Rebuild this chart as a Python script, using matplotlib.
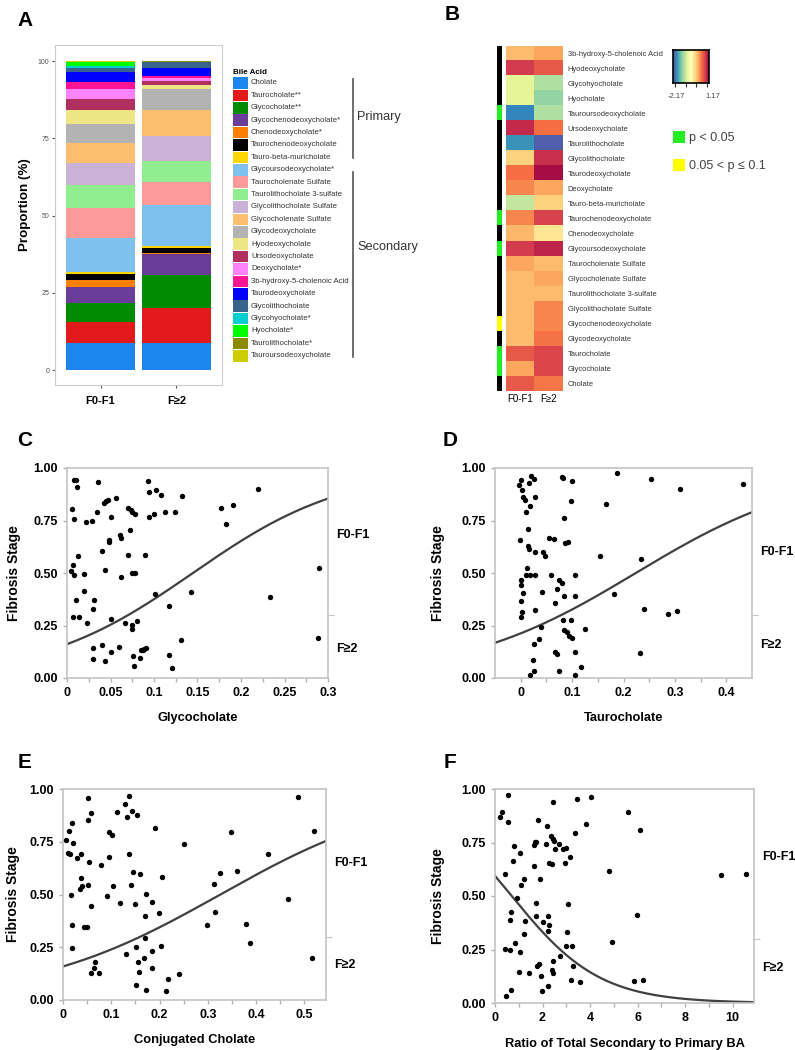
import numpy as np
import matplotlib.pyplot as plt
from matplotlib.patches import Rectangle
from matplotlib.colors import to_rgb

plt.rcParams['font.family'] = ['Liberation Sans', 'DejaVu Sans']

W, H = 795, 1050

# ---------------- Panel A: stacked proportions ----------------
acids = ['Cholate', 'Taurocholate', 'Glycocholate', 'Glycochenodeoxycholate',
         'Chenodeoxycholate', 'Taurochenodeoxycholate', 'Tauro-beta-muricholate',
         'Glycoursodeoxycholate', 'Taurocholenate Sulfate', 'Taurolithocholate 3-sulfate',
         'Glycolithocholate Sulfate', 'Glycocholenate Sulfate', 'Glycodeoxycholate',
         'Hyodeoxycholate', 'Ursodeoxycholate', 'Deoxycholate',
         '3b-hydroxy-5-cholenoic Acid', 'Taurodeoxycholate', 'Glycolithocholate',
         'Glycohyocholate', 'Hyocholate', 'Taurolithocholate', 'Tauroursodeoxycholate']
acid_marks = ['', '**', '**', '*', '*', '', '', '*', '', '', '', '', '', '', '', '*',
              '', '', '', '*', '*', '*', '']
acid_colors = ['#1C86EE', '#E31A1C', '#008B00', '#6A3D9A', '#FF7F00', '#000000',
               '#FFD700', '#7EC0EE', '#FB9A99', '#90EE90', '#CAB2D6', '#FDBF6F',
               '#B3B3B3', '#EEE685', '#B03060', '#FF83FA', '#FF1493', '#0000FF',
               '#36648B', '#00CED1', '#00FF00', '#8B8B00', '#CDCD00']
prop_f01 = [8.6, 6.8, 6.4, 5.2, 2.1, 2.0, 0.6, 10.9, 9.7, 7.5, 7.1, 6.7, 5.9,
            4.6, 3.6, 3.2, 2.4, 3.0, 1.5, 0.6, 1.2, 0.2, 0.2]
prop_f2 = [8.8, 11.4, 10.5, 6.8, 0.5, 1.6, 0.5, 13.2, 7.5, 6.7, 8.1, 8.5, 6.7,
           1.4, 1.3, 0.9, 0.8, 2.4, 2.0, 0.1, 0.1, 0.1, 0.1]
groups = ['F0-F1', 'F\u22652']

# ---------------- Panel B: heatmap ----------------
heat_rows = ['3b-hydroxy-5-cholenoic Acid', 'Hyodeoxycholate', 'Glycohyocholate',
             'Hyocholate', 'Tauroursodeoxycholate', 'Ursodeoxycholate',
             'Taurolithocholate', 'Glycolithocholate', 'Taurodeoxycholate',
             'Deoxycholate', 'Tauro-beta-muricholate', 'Taurochenodeoxycholate',
             'Chenodeoxycholate', 'Glycoursodeoxycholate', 'Taurocholenate Sulfate',
             'Glycocholenate Sulfate', 'Taurolithocholate 3-sulfate',
             'Glycolithocholate Sulfate', 'Glycochenodeoxycholate', 'Glycodeoxycholate',
             'Taurocholate', 'Glycocholate', 'Cholate']
z_f01 = [0.07, 0.84, -0.83, -0.83, -1.84, 0.94, -1.77, -0.07, 0.50, 0.37, -1.03,
         0.37, 0.10, 0.84, 0.20, 0.07, 0.07, 0.07, 0.07, 0.07, 0.64, 0.20, 0.64]
z_f2 = [0.20, 0.64, -1.13, -1.27, -1.13, 0.50, -2.07, 0.90, 1.10, 0.20, -0.07,
        0.80, -0.23, 0.97, 0.07, 0.20, 0.07, 0.37, 0.37, 0.47, 0.77, 0.77, 0.44]
heat_sig = ['ns', 'ns', 'ns', 'ns', 'p05', 'ns', 'ns', 'ns', 'ns', 'ns', 'ns', 'p05',
            'ns', 'p05', 'ns', 'ns', 'ns', 'ns', 'p10', 'ns', 'p05', 'p05', 'ns']
z_min, z_max = -2.17, 1.17

# ---------------- Panels C-F: logistic fits ----------------
gc_x = [0.008, 0.010, 0.012, 0.036, 0.006, 0.008, 0.022, 0.029, 0.035, 0.042, 0.045,
        0.047, 0.056, 0.050, 0.007, 0.005, 0.008, 0.013, 0.010, 0.007, 0.014, 0.019,
        0.020, 0.031, 0.030, 0.023, 0.040, 0.044, 0.048, 0.048, 0.061, 0.062, 0.062,
        0.051, 0.070, 0.073, 0.075, 0.078, 0.072, 0.070, 0.075, 0.078, 0.067, 0.075,
        0.075, 0.080, 0.093, 0.094, 0.102, 0.108, 0.094, 0.100, 0.113, 0.124, 0.132,
        0.090, 0.101, 0.117, 0.143, 0.177, 0.183, 0.191, 0.220, 0.233, 0.290, 0.288,
        0.131, 0.030, 0.040, 0.060, 0.030, 0.044, 0.051, 0.076, 0.077, 0.084, 0.085,
        0.087, 0.089, 0.091, 0.117, 0.121]
gc_y = [0.944, 0.941, 0.908, 0.933, 0.806, 0.759, 0.741, 0.749, 0.789, 0.833, 0.844,
        0.849, 0.857, 0.767, 0.537, 0.508, 0.492, 0.579, 0.373, 0.290, 0.289, 0.497,
        0.413, 0.370, 0.330, 0.262, 0.603, 0.516, 0.656, 0.646, 0.683, 0.667, 0.479,
        0.281, 0.810, 0.798, 0.789, 0.783, 0.706, 0.584, 0.500, 0.500, 0.262, 0.254,
        0.233, 0.273, 0.937, 0.886, 0.897, 0.871, 0.767, 0.783, 0.789, 0.789, 0.868,
        0.587, 0.400, 0.344, 0.408, 0.811, 0.733, 0.822, 0.900, 0.384, 0.524, 0.190,
        0.179, 0.143, 0.159, 0.146, 0.090, 0.079, 0.122, 0.103, 0.056, 0.095, 0.132,
        0.135, 0.138, 0.141, 0.108, 0.046]

tc_x = [-0.003, 0.001, 0.003, 0.005, 0.008, 0.010, 0.015, 0.018, 0.016, 0.021, 0.026,
        0.028, -0.001, 0.015, 0.017, 0.028, 0.043, 0.048, 0.056, 0.065, 0.000, 0.001,
        0.005, 0.001, 0.003, 0.000, 0.013, 0.010, 0.018, 0.028, 0.042, 0.028, 0.039,
        0.035, 0.026, 0.023, 0.018, 0.026, 0.058, 0.066, 0.070, 0.074, 0.081, 0.084,
        0.082, 0.084, 0.090, 0.094, 0.097, 0.100, 0.066, 0.071, 0.074, 0.081, 0.083,
        0.100, 0.097, 0.085, 0.087, 0.092, 0.105, 0.105, 0.106, 0.106, 0.118, 0.126,
        0.155, 0.166, 0.181, 0.187, 0.234, 0.239, 0.232, 0.253, 0.286, 0.305, 0.310,
        0.432]
tc_y = [0.921, 0.941, 0.897, 0.862, 0.849, 0.789, 0.710, 0.821, 0.929, 0.963, 0.948,
        0.862, 0.656, 0.627, 0.614, 0.598, 0.598, 0.583, 0.667, 0.662, 0.468, 0.444,
        0.405, 0.365, 0.313, 0.289, 0.524, 0.492, 0.492, 0.492, 0.408, 0.322, 0.241,
        0.186, 0.162, 0.084, 0.016, 0.035, 0.492, 0.357, 0.424, 0.465, 0.452, 0.392,
        0.278, 0.230, 0.217, 0.198, 0.278, 0.190, 0.122, 0.114, 0.035, 0.956, 0.952,
        0.940, 0.844, 0.762, 0.643, 0.648, 0.492, 0.392, 0.122, 0.016, 0.051, 0.233,
        0.579, 0.830, 0.400, 0.976, 0.567, 0.330, 0.119, 0.948, 0.305, 0.317, 0.902,
        0.925]

cc_x = [0.006, 0.012, 0.018, 0.010, 0.014, 0.021, 0.028, 0.038, 0.016, 0.037, 0.036,
        0.040, 0.051, 0.053, 0.051, 0.052, 0.059, 0.059, 0.019, 0.044, 0.049, 0.018,
        0.078, 0.095, 0.101, 0.095, 0.104, 0.092, 0.111, 0.118, 0.128, 0.133, 0.137,
        0.142, 0.154, 0.137, 0.146, 0.160, 0.141, 0.149, 0.172, 0.170, 0.184, 0.198,
        0.190, 0.206, 0.250, 0.170, 0.152, 0.130, 0.156, 0.158, 0.152, 0.168, 0.185,
        0.184, 0.173, 0.204, 0.218, 0.214, 0.241, 0.066, 0.064, 0.059, 0.075, 0.299,
        0.312, 0.315, 0.325, 0.348, 0.360, 0.379, 0.388, 0.424, 0.467, 0.486, 0.517,
        0.521]
cc_y = [0.757, 0.802, 0.838, 0.698, 0.690, 0.743, 0.675, 0.694, 0.500, 0.576, 0.527,
        0.540, 0.543, 0.656, 0.852, 0.957, 0.886, 0.444, 0.357, 0.344, 0.346, 0.246,
        0.640, 0.794, 0.783, 0.678, 0.540, 0.492, 0.889, 0.460, 0.929, 0.865, 0.965,
        0.897, 0.878, 0.694, 0.606, 0.598, 0.544, 0.457, 0.503, 0.397, 0.465, 0.413,
        0.813, 0.583, 0.741, 0.294, 0.249, 0.219, 0.178, 0.132, 0.071, 0.198, 0.233,
        0.154, 0.048, 0.254, 0.100, 0.043, 0.125, 0.178, 0.151, 0.130, 0.127, 0.357,
        0.552, 0.416, 0.600, 0.798, 0.611, 0.362, 0.270, 0.690, 0.479, 0.963, 0.198,
        0.802]

ratio_x = [0.21, 0.31, 0.55, 0.55, 0.42, 0.80, 0.77, 1.04, 1.08, 1.22, 0.94, 0.69,
           0.62, 0.84, 0.42, 0.62, 1.05, 1.26, 1.22, 1.01, 1.43, 0.48, 0.69, 1.64,
           1.64, 1.69, 1.74, 1.81, 1.88, 1.74, 1.71, 1.78, 1.85, 1.92, 1.97, 2.02,
           2.13, 2.18, 2.25, 2.28, 2.23, 2.25, 2.28, 2.39, 2.34, 2.42, 2.49, 2.42,
           2.53, 2.70, 2.88, 2.98, 2.94, 3.16, 3.02, 3.08, 2.98, 2.74, 2.44, 2.39,
           2.42, 3.26, 3.29, 3.19, 3.58, 3.36, 3.44, 3.85, 4.06, 4.78, 4.94, 5.58,
           5.83, 5.97, 6.11, 6.21, 9.51, 10.56]
ratio_y = [0.869, 0.893, 0.972, 0.844, 0.603, 0.735, 0.665, 0.701, 0.550, 0.581,
           0.491, 0.424, 0.389, 0.280, 0.254, 0.246, 0.238, 0.385, 0.322, 0.145,
           0.140, 0.034, 0.059, 0.639, 0.740, 0.752, 0.751, 0.857, 0.579, 0.467,
           0.405, 0.174, 0.182, 0.128, 0.058, 0.377, 0.745, 0.829, 0.405, 0.366,
           0.338, 0.081, 0.654, 0.650, 0.779, 0.768, 0.759, 0.938, 0.721, 0.743,
           0.720, 0.724, 0.654, 0.681, 0.330, 0.463, 0.265, 0.218, 0.198, 0.156,
           0.140, 0.265, 0.174, 0.109, 0.098, 0.794, 0.953, 0.836, 0.961, 0.618,
           0.285, 0.891, 0.104, 0.413, 0.807, 0.109, 0.597, 0.604]

# logistic fit coefficients (intercept, slope) for each panel
fit_gc = (-1.65, 11.4)
fit_tc = (-1.31, 5.85)
fit_cc = (-1.666, 5.11)
fit_ratio = (0.38, -0.54)
stage_cut = 0.30


def px_axes(fig, x0, y0, x1, y1):
    return fig.add_axes([x0 / W, 1 - y1 / H, (x1 - x0) / W, (y1 - y0) / H])


fig = plt.figure(figsize=(W / 100, H / 100), dpi=100)
ov = fig.add_axes([0, 0, 1, 1])
ov.set_xlim(0, W)
ov.set_ylim(H, 0)
ov.axis('off')

# ---- A ----
axA = px_axes(fig, 55, 45, 222, 385)
bottom = np.zeros(2)
for col, a, b in zip(acid_colors, prop_f01, prop_f2):
    vals = np.array([a, b])
    axA.bar([1, 2], vals, bottom=bottom, width=0.9, color=col, linewidth=0)
    bottom += vals
axA.set_xlim(0.4, 2.6)
axA.set_ylim(-4.85, 105.2)
axA.set_yticks([0, 25, 50, 75, 100])
axA.set_xticks([1, 2])
axA.set_xticklabels(groups, fontweight='bold', fontsize=8)
for s in axA.spines.values():
    s.set_color('#cccccc')
axA.tick_params(axis='y', labelsize=5, labelcolor='#555555', color='#555555', length=2, pad=2)
axA.tick_params(axis='x', length=2, color='#555555', pad=6)
ov.text(25, 205, 'Proportion (%)', rotation=90, fontsize=9.6, fontweight='bold',
        ha='center', va='center')

ov.text(233, 72, 'Bile Acid', fontsize=5.8, fontweight='bold', va='center')
for i, (name, mark, col) in enumerate(zip(acids, acid_marks, acid_colors)):
    yc = 83 + i * 12.4
    ov.add_patch(Rectangle((233, yc - 5.8), 15, 11.6, color=col, lw=0))
    ov.text(251, yc, name + mark, fontsize=5.6, va='center', color='#333333')
ov.plot([353, 353], [79, 158], color='#555555', lw=1.2)
ov.plot([353, 353], [172, 357], color='#555555', lw=1.2)
ov.text(357, 117, 'Primary', fontsize=9.2, va='center', color='#333333')
ov.text(357, 247, 'Secondary', fontsize=9.2, va='center', color='#333333')

# ---- B ----
axB = px_axes(fig, 506, 46, 563, 391)
M = np.column_stack([z_f01, z_f2])
axB.imshow(M, cmap='Spectral_r', vmin=z_min, vmax=z_max, aspect='auto',
           interpolation='nearest')
axB.set_xticks([0, 1])
axB.set_xticklabels(groups, fontsize=7)
axB.set_yticks(range(len(heat_rows)))
axB.set_yticklabels(heat_rows, fontsize=5.4, color='#333333')
axB.yaxis.tick_right()
axB.tick_params(length=0, pad=3.5)
axB.tick_params(axis='x', pad=2)
for s in axB.spines.values():
    s.set_visible(False)

sig_colors = {'ns': '#000000', 'p05': '#22ee22', 'p10': '#ffff00'}
axS = px_axes(fig, 497, 46, 502, 391)
rgb = np.array([to_rgb(sig_colors[s]) for s in heat_sig])[:, None, :]
axS.imshow(rgb, aspect='auto', interpolation='nearest')
axS.axis('off')

axCb = px_axes(fig, 673, 50, 709, 83)
grad = np.linspace(z_min, z_max, 256)[None, :]
axCb.imshow(grad, cmap='Spectral_r', aspect='auto', extent=[z_min, z_max, 0, 1])
axCb.set_yticks([])
axCb.set_xticks([-2, -1, 0, 1])
axCb.set_xticklabels([])
axCb.tick_params(axis='x', length=3, color='#333333')
for s in axCb.spines.values():
    s.set_linewidth(1.2)
ov.text(676, 97, '-2.17', fontsize=5.5, ha='center', va='center', color='#444444')
ov.text(713, 97, '1.17', fontsize=5.5, ha='center', va='center', color='#444444')

ov.add_patch(Rectangle((673, 131), 12, 12, color=sig_colors['p05'], lw=0))
ov.text(689, 137.5, 'p < 0.05', fontsize=9, va='center', color='#444444')
ov.add_patch(Rectangle((673, 159), 12, 12, color=sig_colors['p10'], lw=0))
ov.text(689, 165.5, '0.05 < p \u2264 0.1', fontsize=9, va='center', color='#444444')


# ---- C-F ----
def logistic_panel(ax, x, y, fit, xlim, xticks, xticklabels, xlabel, ylab_x,
                   f01_pos, f2_pos):
    ax.scatter(x, y, s=15, color='black', linewidths=0, zorder=3)
    xs = np.linspace(xlim[0], xlim[1], 300)
    ax.plot(xs, 1 / (1 + np.exp(-(fit[0] + fit[1] * xs))), color='#404040', lw=1.6)
    ax.set_xlim(xlim)
    ax.set_ylim(0, 1)
    ax.set_yticks([0, 0.25, 0.5, 0.75, 1.0])
    ax.set_yticklabels(['0.00', '0.25', '0.50', '0.75', '1.00'])
    ax.set_xticks(xticks)
    ax.set_xticklabels(xticklabels)
    minor = np.array(xticks[:-1]) + np.diff(xticks) / 2
    ax.set_xticks(minor, minor=True)
    for s in ax.spines.values():
        s.set_color('#c4c4c4')
        s.set_linewidth(1.2)
    ax.tick_params(which='both', color='#b0b0b0', length=3, width=1)
    ax.tick_params(labelsize=9)
    for lab in ax.get_xticklabels() + ax.get_yticklabels():
        lab.set_fontweight('bold')
    sec = ax.secondary_yaxis('right')
    sec.set_yticks([stage_cut])
    sec.set_yticklabels([''])
    sec.tick_params(color='#c4c4c4', length=4)
    sec.spines['right'].set_visible(False)
    ax.text(1.03, f01_pos, 'F0-F1', transform=ax.transAxes, fontsize=9,
            fontweight='bold', va='center')
    ax.text(1.03, f2_pos, 'F\u22652', transform=ax.transAxes, fontsize=9,
            fontweight='bold', va='center')
    ax.text(0.5, -0.19, xlabel, transform=ax.transAxes, fontsize=9.3,
            fontweight='bold', ha='center', va='center')
    ax.text(ylab_x, 0.5, 'Fibrosis Stage', transform=ax.transAxes, fontsize=10,
            fontweight='bold', rotation=90, ha='center', va='center')


axC = px_axes(fig, 67, 468, 328, 678)
logistic_panel(axC, gc_x, gc_y, fit_gc, (0, 0.3),
               [0, 0.05, 0.1, 0.15, 0.2, 0.25, 0.3],
               ['0', '0.05', '0.1', '0.15', '0.2', '0.25', '0.3'],
               'Glycocholate', -0.203, 0.68, 0.14)

axD = px_axes(fig, 495, 468, 752, 678)
logistic_panel(axD, tc_x, tc_y, fit_tc, (-0.05, 0.45),
               [0, 0.1, 0.2, 0.3, 0.4], ['0', '0.1', '0.2', '0.3', '0.4'],
               'Taurocholate', -0.222, 0.60, 0.157)

axE = px_axes(fig, 63, 789, 326, 1000)
logistic_panel(axE, cc_x, cc_y, fit_cc, (0, 0.545),
               [0, 0.1, 0.2, 0.3, 0.4, 0.5], ['0', '0.1', '0.2', '0.3', '0.4', '0.5'],
               'Conjugated Cholate', -0.19, 0.65, 0.166)

axF = px_axes(fig, 495, 789, 754, 1003)
logistic_panel(axF, ratio_x, ratio_y, fit_ratio, (0, 10.9),
               [0, 2, 4, 6, 8, 10], ['0', '2', '4', '6', '8', '10'],
               'Ratio of Total Secondary to Primary BA', -0.22, 0.68, 0.164)

for letter, (lx, ly) in zip('ABCDEF', [(25, 20), (452, 15), (25, 440), (450, 440),
                                       (25, 762), (450, 762)]):
    ov.text(lx, ly, letter, fontsize=15, fontweight='bold', ha='center', va='center')

fig.savefig('out.png', dpi=100)
